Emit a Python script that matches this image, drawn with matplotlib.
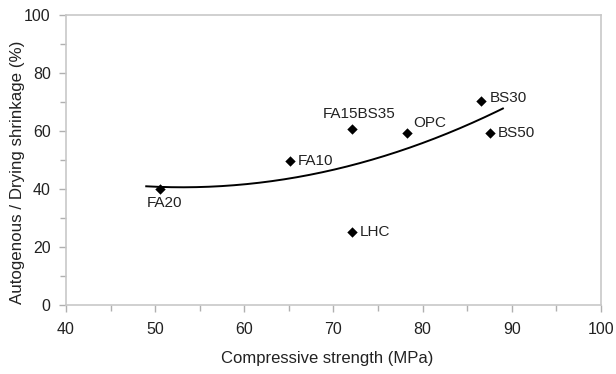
import numpy as np
import matplotlib
matplotlib.use("Agg")
import matplotlib.pyplot as plt
from matplotlib.ticker import MultipleLocator

plt.rcParams['font.family'] = ['Liberation Sans', 'DejaVu Sans']

# Mixes: compressive strength (MPa) vs autogenous / drying shrinkage ratio (%)
mixes = ["FA20", "FA10", "FA15BS35", "LHC", "OPC", "BS30", "BS50"]
strength = [50.6, 65.1, 72.1, 72.1, 78.2, 86.6, 87.5]
shrink_ratio = [40.0, 49.7, 60.7, 25.1, 59.2, 70.4, 59.4]

# Label offsets in pixels (dx, dy) and horizontal alignment
label_pos = {
    "FA20": (4, -14, "center"),
    "FA10": (8, 0, "left"),
    "FA15BS35": (7, 15, "center"),
    "LHC": (8, 0, "left"),
    "OPC": (7, 10, "left"),
    "BS30": (8, 3, "left"),
    "BS50": (8, 0, "left"),
}

fig = plt.figure(figsize=(6.16, 3.74), dpi=100)
ax = fig.add_axes([0.1071, 0.1845, 0.8685, 0.7754])

ax.scatter(strength, shrink_ratio, marker="D", s=28, color="black", zorder=3,
           linewidths=0)

# Second-order polynomial trendline
coef = np.polyfit(strength, shrink_ratio, 2)
xs = np.linspace(49, 89, 200)
ax.plot(xs, np.polyval(coef, xs), color="black", lw=1.4, zorder=2)

for name, x, y in zip(mixes, strength, shrink_ratio):
    dx, dy, ha = label_pos[name]
    ax.annotate(name, (x, y), xytext=(dx, dy), textcoords="offset pixels",
                ha=ha, va="center", fontsize=11, color="#222222")

ax.set_xlim(40, 100)
ax.set_ylim(0, 100)
ax.xaxis.set_major_locator(MultipleLocator(10))
ax.xaxis.set_minor_locator(MultipleLocator(5))
ax.yaxis.set_major_locator(MultipleLocator(20))
ax.yaxis.set_minor_locator(MultipleLocator(10))

for sp in ax.spines.values():
    sp.set_color("#c8c8c8")
    sp.set_linewidth(1.2)

ax.tick_params(which="both", direction="out", color="#b0b0b0", width=1.0,
               labelsize=11.5, labelcolor="#222222")
ax.tick_params(which="major", length=5)
ax.tick_params(which="minor", length=4)
ax.tick_params(axis="x", which="both", pad=7)
ax.tick_params(axis="y", which="both", pad=6)

ax.set_xlabel("Compressive strength (MPa)", fontsize=12, color="#222222")
ax.set_ylabel("Autogenous / Drying shrinkage (%)", fontsize=12.2,
              color="#222222")
ax.xaxis.set_label_coords(0.489, -0.158)
ax.yaxis.set_label_coords(-0.077, 0.4586)

fig.savefig("out.png", dpi=100)
